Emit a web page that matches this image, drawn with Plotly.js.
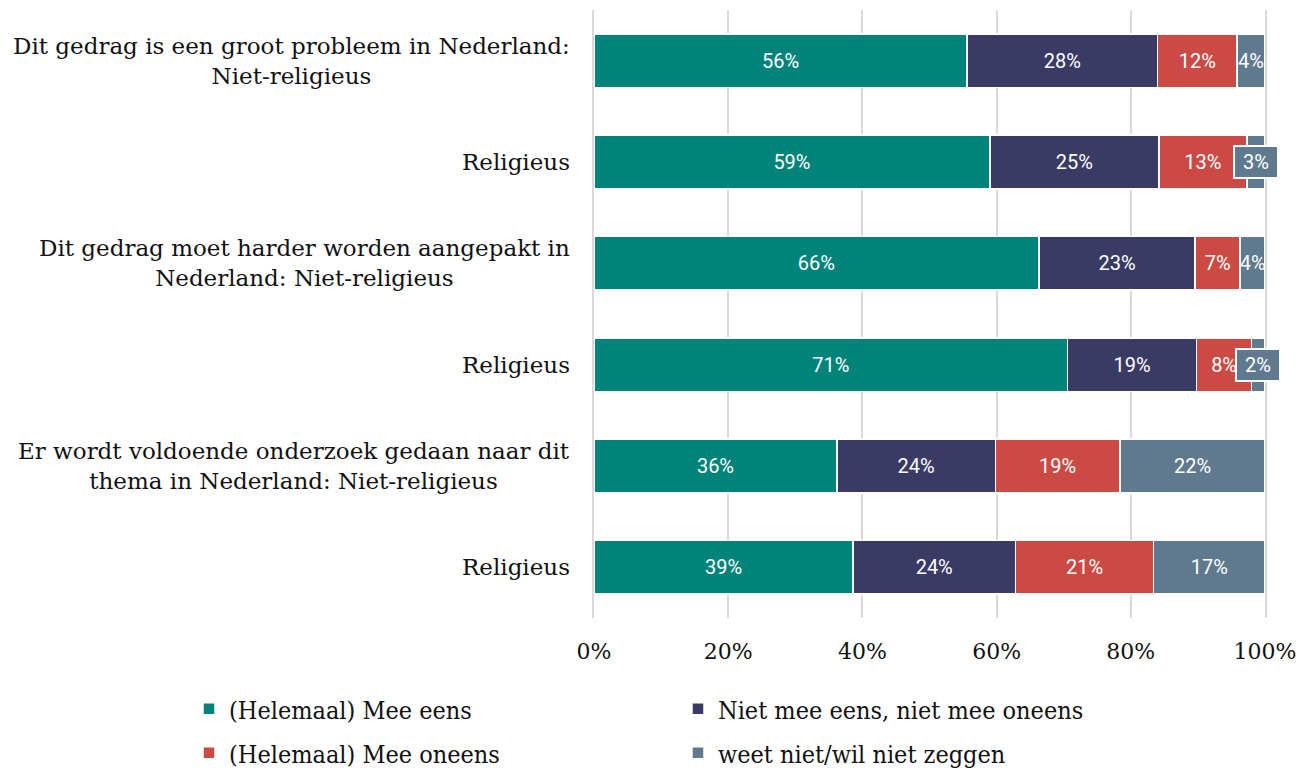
<!DOCTYPE html>
<html>
<head>
<meta charset="utf-8">
<script src="https://cdn.plot.ly/plotly-3.0.1.min.js"></script>
<style>html,body{margin:0;padding:0;background:#fff;}#chart{width:1299px;height:768px;}</style>
</head>
<body>
<div id="chart"></div>
<script>
// Categories, top to bottom
const categories = [
  "Dit gedrag is een groot probleem in Nederland:<br>Niet-religieus",
  "Religieus",
  "Dit gedrag moet harder worden aangepakt in<br>Nederland: Niet-religieus",
  "Religieus",
  "Er wordt voldoende onderzoek gedaan naar dit<br>thema in Nederland: Niet-religieus",
  "Religieus"
];
const seriesNames = [
  "(Helemaal) Mee eens",
  "Niet mee eens, niet mee oneens",
  "(Helemaal) Mee oneens",
  "weet niet/wil niet zeggen"
];
const meeEens    = [55.6, 59.0, 66.3, 70.6, 36.2, 38.6];
const neutraal   = [28.4, 25.2, 23.3, 19.2, 23.6, 24.2];
const meeOneens  = [11.8, 13.1, 6.7, 8.2, 18.6, 20.6];
const weetNiet   = [4.2, 2.7, 3.7, 2.0, 21.6, 16.6];
const xTicks = [0, 20, 40, 60, 80, 100];
const colors = ["#00847a", "#393b65", "#cb4b44", "#5f7a8e"];

const series = [meeEens, neutraal, meeOneens, weetNiet];
const yIdx = categories.map((c, i) => i);
const calloutThreshold = 3.5; // small last segments get a boxed callout

const traces = series.map((vals, s) => {
  const isLast = s === series.length - 1;
  const texts = vals.map(v => (isLast && v < calloutThreshold) ? "" : Math.round(v) + "%");
  return {
    type: "bar",
    orientation: "h",
    name: seriesNames[s],
    x: vals,
    y: yIdx,
    text: texts,
    textposition: "inside",
    insidetextanchor: "middle",
    textangle: 0,
    constraintext: "none",
    textfont: {family: "Roboto, sans-serif", size: 20, color: "#ffffff"},
    marker: {color: colors[s], line: {color: "#ffffff", width: 1.5}},
    hoverinfo: "skip",
    legend: s < 2 ? "legend" : "legend2"
  };
});

const annotations = [];
// category labels
categories.forEach((c, i) => {
  annotations.push({
    xref: "paper", yref: "y", x: 0, y: i,
    xanchor: "right", yanchor: "middle", xshift: -22,
    text: c, align: "center", showarrow: false,
    font: {family: "DejaVu Serif, serif", size: 23, color: "#111111"}
  });
});
// callouts for small segments
weetNiet.forEach((v, i) => {
  if (v < calloutThreshold) {
    const start = meeEens[i] + neutraal[i] + meeOneens[i];
    annotations.push({
      xref: "x", yref: "y", x: start + v / 2, y: i,
      xanchor: "center", yanchor: "middle",
      text: Math.round(v) + "%", showarrow: false,
      width: 38, height: 26,
      font: {family: "Roboto, sans-serif", size: 20, color: "#ffffff"},
      bgcolor: colors[3], bordercolor: "#ffffff", borderwidth: 2, borderpad: 2
    });
  }
});

const legendFont = {family: "DejaVu Serif Condensed, DejaVu Serif, serif", size: 25, color: "#111111"};
const plotTop = 10, plotBottom = 618, plotH = plotBottom - plotTop;
const plotLeft = 594, plotW = 1265 - 594;
const legX = (189 - plotLeft) / plotW;
const layout = {
  width: 1299, height: 768,
  margin: {l: 594, r: 34, t: 10, b: 150, autoexpand: false},
  paper_bgcolor: "#ffffff", plot_bgcolor: "#ffffff",
  barmode: "stack",
  bargap: 0.47,
  showlegend: true,
  hovermode: false,
  xaxis: {
    range: [0, 100], tickvals: xTicks, ticktext: xTicks.map(t => t + "%"),
    showgrid: true, gridcolor: "#d9d9d9", gridwidth: 2,
    zeroline: false, showline: false, ticks: "",
    ticklabelstandoff: 18,
    tickfont: {family: "DejaVu Serif, serif", size: 22, color: "#111111"}
  },
  yaxis: {
    range: [5.5, -0.5], showticklabels: false, showgrid: false, zeroline: false, ticks: "",
    showline: true, mirror: true, linecolor: "#d9d9d9", linewidth: 2
  },
  legend: {
    orientation: "h", xref: "paper", yref: "paper",
    x: legX, y: -(709 - plotBottom) / plotH, xanchor: "left", yanchor: "middle",
    entrywidth: 444, entrywidthmode: "pixels", font: legendFont, traceorder: "normal"
  },
  legend2: {
    orientation: "h", xref: "paper", yref: "paper",
    x: legX, y: -(753 - plotBottom) / plotH, xanchor: "left", yanchor: "middle",
    entrywidth: 444, entrywidthmode: "pixels", font: legendFont, traceorder: "normal"
  },
  annotations: annotations
};

Plotly.newPlot("chart", traces, layout, {displayModeBar: false, staticPlot: true});
</script>
</body>
</html>
